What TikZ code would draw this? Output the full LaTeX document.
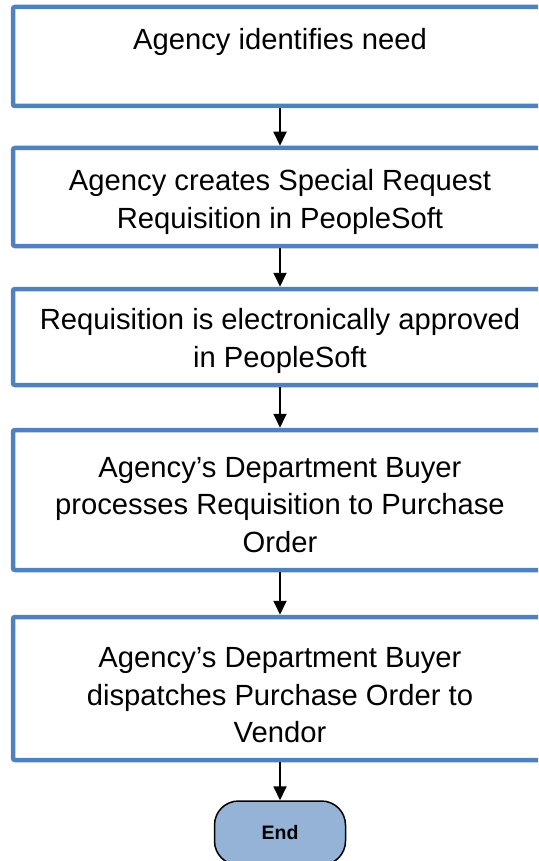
\documentclass[tikz,border=0pt]{standalone}
\usepackage{fontspec}
\setmainfont{Liberation Sans}
\usetikzlibrary{arrows.meta}
\definecolor{boxblue}{HTML}{4F81BD}
\definecolor{endfill}{HTML}{95B3D7}
\begin{document}
\begin{tikzpicture}[x=1pt,y=-1pt,
  stepbox/.style={draw=boxblue, line width=4.5pt, rounded corners=2pt, minimum width=534pt, inner sep=0pt},
  steptext/.style={align=center, inner sep=0pt, font=\fontsize{29.2}{37.5}\selectfont},
  flow/.style={-{Triangle[width=13pt,length=14pt]}, line width=1.8pt, draw=black},
  endbox/.style={draw=black, fill=endfill, line width=1.5pt, rounded corners=24pt,
    minimum width=131pt, minimum height=64pt, inner sep=0pt,
    font=\bfseries\fontsize{19.5}{22}\selectfont}]
\useasboundingbox (0,0) rectangle (538,861);
\clip (0,0) rectangle (538,861);
\node[stepbox, minimum height=99pt] (b1) at (280,56.5) {};
\node[stepbox, minimum height=98pt] (b2) at (280,197) {};
\node[stepbox, minimum height=96pt] (b3) at (280,337) {};
\node[stepbox, minimum height=140pt] (b4) at (280,500) {};
\node[stepbox, minimum height=143pt] (b5) at (280,688.5) {};
\node[steptext] (t1) at ([yshift=-7pt]b1.center) {Agency identifies need\\ \strut};
\node[steptext] (t2) at ([yshift=-5pt]b2.center) {Agency creates Special Request\\Requisition in PeopleSoft};
\node[steptext] (t3) at ([yshift=-4pt]b3.center) {Requisition is electronically approved\\in PeopleSoft};
\node[steptext] (t4) at ([yshift=-5pt]b4.center) {Agency’s Department Buyer\\processes Requisition to Purchase\\Order};
\node[steptext] (t5) at ([yshift=-7pt]b5.center) {Agency’s Department Buyer\\dispatches Purchase Order to\\Vendor};
\node[endbox] (end) at (280,833) {End};
\draw[flow] (b1.south) -- (b2.north);
\draw[flow] (b2.south) -- (b3.north);
\draw[flow] (b3.south) -- (b4.north);
\draw[flow] (b4.south) -- (b5.north);
\draw[flow] (b5.south) -- (end.north);
\end{tikzpicture}
\end{document}
